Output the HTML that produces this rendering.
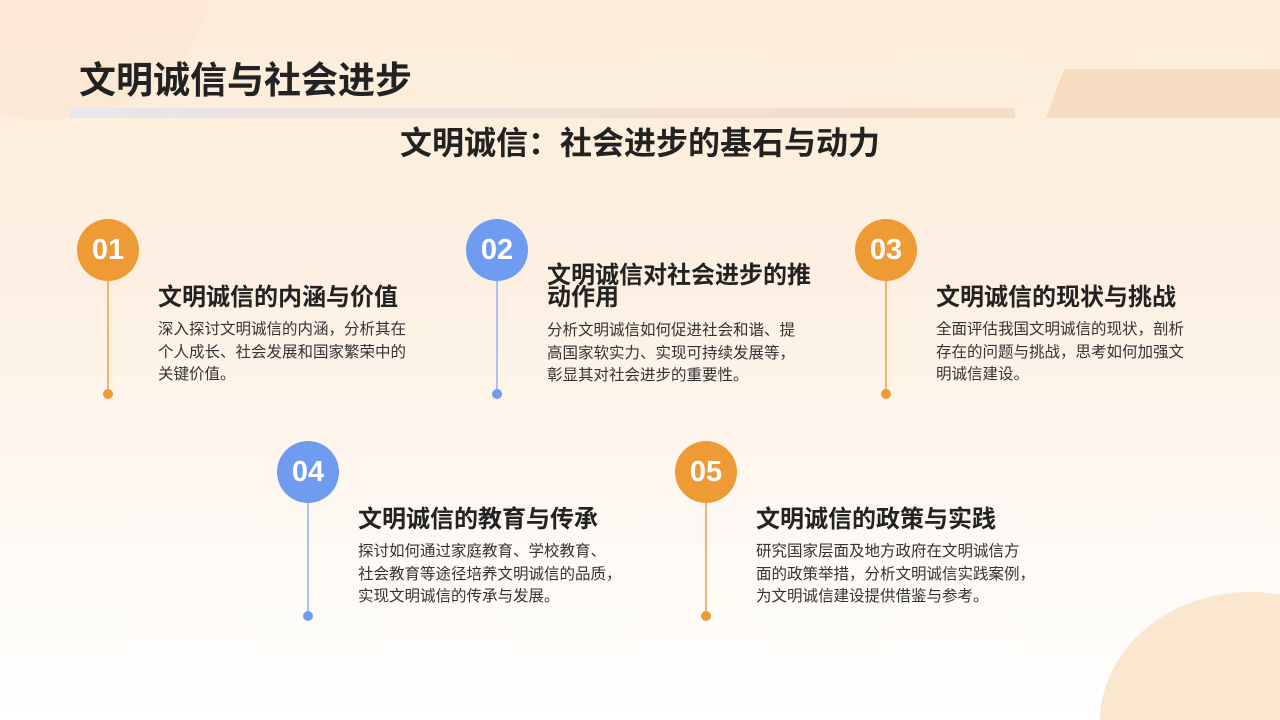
<!DOCTYPE html>
<html style="width:1280px;height:720px;overflow:hidden"><head><meta charset="utf-8"><style>
*{margin:0;padding:0}
html,body{width:1280px;height:720px;overflow:hidden}
#w{position:relative;width:1280px;height:720px;overflow:hidden;font-family:"Liberation Sans","Noto Sans CJK SC",sans-serif;background:linear-gradient(180deg,#fdecd9 0%,#fdf0e3 40%,#fef8f2 70%,#ffffff 100%);}
.a{position:absolute}
.c{position:absolute;width:62px;height:62px;border-radius:50%;color:#fff;font-weight:bold;font-size:29px;text-align:center;line-height:62px}
.o{background:#ef9b35}.b{background:#6f9cf0}
.l{position:absolute;width:2px}
.d{position:absolute;width:10px;height:10px;border-radius:50%}
.t{position:absolute;font-weight:bold;font-size:24px;color:#222;line-height:22px;width:275px}
.p{position:absolute;font-size:15.5px;color:#333;line-height:22.5px;width:300px;white-space:nowrap}
</style></head><body><div id="w">
<div class="a" style="left:-120px;top:-150px;width:330px;height:270px;border-radius:50%;background:#fbe6d0;opacity:.6"></div>
<div class="a" style="left:1055px;top:69px;width:240px;height:49px;background:#f8dcbf;transform:skewX(-20deg)"></div>
<div class="a" style="left:70px;top:108px;width:945px;height:10px;background:linear-gradient(90deg,#e8e6ea,#f6dcc4)"></div>
<div class="a" style="left:1100px;top:592px;width:300px;height:260px;border-radius:50%;background:#fbe6cf"></div>
<div class="a" style="left:79px;top:58px;font-size:37px;font-weight:bold;color:#222;line-height:46px">文明诚信与社会进步</div>
<div class="a" style="left:0;width:1280px;top:124px;text-align:center;font-size:32px;font-weight:bold;color:#222;line-height:38px">文明诚信：社会进步的基石与动力</div>

<div class="l" style="left:107px;top:270px;height:124px;background:#efb66e"></div>
<div class="d o" style="left:103px;top:389px"></div>
<div class="c o" style="left:77px;top:219px">01</div>
<div class="t" style="left:158px;top:287px">文明诚信的内涵与价值</div>
<div class="p" style="left:158px;top:319px">深入探讨文明诚信的内涵，分析其在<br>个人成长、社会发展和国家繁荣中的<br>关键价值。</div>

<div class="l" style="left:496px;top:270px;height:124px;background:#a9c2f2"></div>
<div class="d b" style="left:492px;top:389px"></div>
<div class="c b" style="left:466px;top:219px">02</div>
<div class="t" style="left:547px;top:265px">文明诚信对社会进步的推<br>动作用</div>
<div class="p" style="left:547px;top:320px">分析文明诚信如何促进社会和谐、提<br>高国家软实力、实现可持续发展等，<br>彰显其对社会进步的重要性。</div>

<div class="l" style="left:885px;top:270px;height:124px;background:#efb66e"></div>
<div class="d o" style="left:881px;top:389px"></div>
<div class="c o" style="left:855px;top:219px">03</div>
<div class="t" style="left:936px;top:287px">文明诚信的现状与挑战</div>
<div class="p" style="left:936px;top:319px">全面评估我国文明诚信的现状，剖析<br>存在的问题与挑战，思考如何加强文<br>明诚信建设。</div>

<div class="l" style="left:307px;top:492px;height:124px;background:#a9c2f2"></div>
<div class="d b" style="left:303px;top:611px"></div>
<div class="c b" style="left:277px;top:441px">04</div>
<div class="t" style="left:358px;top:509px">文明诚信的教育与传承</div>
<div class="p" style="left:358px;top:541px">探讨如何通过家庭教育、学校教育、<br>社会教育等途径培养文明诚信的品质，<br>实现文明诚信的传承与发展。</div>

<div class="l" style="left:705px;top:492px;height:124px;background:#efb66e"></div>
<div class="d o" style="left:701px;top:611px"></div>
<div class="c o" style="left:675px;top:441px">05</div>
<div class="t" style="left:756px;top:509px">文明诚信的政策与实践</div>
<div class="p" style="left:756px;top:541px">研究国家层面及地方政府在文明诚信方<br>面的政策举措，分析文明诚信实践案例，<br>为文明诚信建设提供借鉴与参考。</div>
</div></body></html>
